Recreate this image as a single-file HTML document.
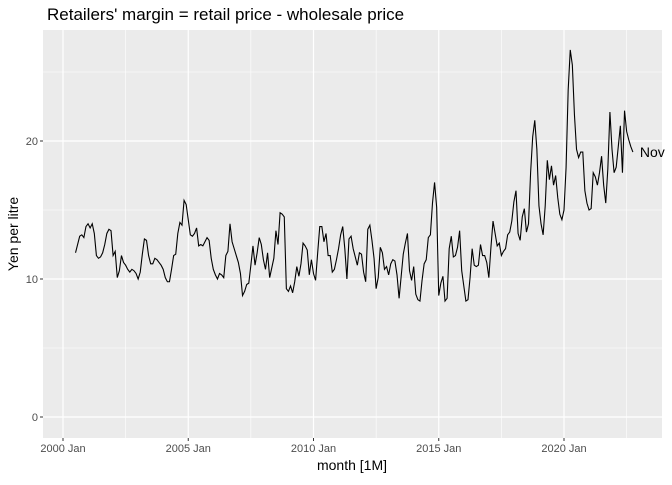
<!DOCTYPE html>
<html><head><meta charset="utf-8"><style>
body{margin:0;background:#fff;}
svg text{font-family:"Liberation Sans",Arial,sans-serif;}
</style></head><body>
<svg id="chart" width="672" height="480">
<text x="47" y="20" font-size="17" fill="#000">Retailers' margin = retail price - wholesale price</text>
<rect x="43" y="30" width="619" height="408" fill="#ebebeb"/>
<g id="grid"></g>
<g id="axes"></g>
<path id="line" fill="none" stroke="#000" stroke-width="1.1"/>
<text id="endlabel" font-size="14" fill="#000">Nov</text>
<text x="352" y="470" font-size="14" text-anchor="middle">month [1M]</text>
<text transform="translate(18,234) rotate(-90)" font-size="14" text-anchor="middle">Yen per litre</text>
</svg>
<script>
const yTicks=[0,10,20];
const yMinor=[5,15,25];
const xTickYears=[2000,2005,2010,2015,2020];
const xTickLabels=["2000 Jan","2005 Jan","2010 Jan","2015 Jan","2020 Jan"];
const startYear=2000.5;
const endLabel="Nov";
const values=[
11.9,12.5,13.1,13.2,13.0,13.8,14.0,13.7,14.0,13.3,11.7,11.5,11.6,11.9,12.5,13.3,13.6,13.5,11.7,12.0,10.1,10.6,11.7,11.2,11.0,10.7,10.5,10.7,10.6,10.4,10.0,10.5,11.8,12.9,12.8,11.7,11.1,11.1,11.5,11.4,11.2,11.0,10.7,10.1,9.8,9.8,10.7,11.7,11.8,13.3,14.1,13.9,15.7,15.4,14.3,13.2,13.1,13.3,13.7,12.4,12.5,12.4,12.7,13.0,12.8,11.5,10.7,10.3,10.0,
10.4,10.3,10.1,11.7,12.0,14.0,12.7,12.2,11.7,11.2,10.4,8.8,9.1,9.6,9.7,11.0,12.4,11.0,11.9,13.0,12.5,11.4,10.7,11.9,10.1,10.8,11.5,13.5,12.5,14.8,14.7,14.5,9.3,9.1,9.5,9.0,9.8,10.9,10.2,11.1,12.6,12.4,12.1,10.3,11.4,10.4,9.9,11.9,13.8,13.8,12.7,13.3,11.7,11.7,10.5,10.7,11.4,12.2,13.2,13.8,12.2,10.0,12.9,13.1,12.2,11.6,11.0,11.9,11.8,10.5,9.8,
13.6,13.9,12.8,11.5,9.3,10.1,12.3,11.9,10.7,10.9,10.3,11.1,11.4,11.3,10.3,8.6,10.2,11.8,12.6,13.3,10.6,9.9,10.9,8.9,8.5,8.4,9.9,11.1,11.4,13.0,13.2,15.5,17.0,15.2,8.8,9.7,10.2,8.4,8.6,12.2,13.1,11.6,11.7,12.3,13.5,10.6,9.5,8.4,8.5,10.1,12.2,11.0,10.9,11.0,12.5,11.7,11.7,11.2,10.1,12.3,14.2,13.3,12.4,12.6,11.7,12.0,12.2,13.2,13.4,14.2,15.6,16.4,
13.3,12.8,14.5,15.1,13.4,14.0,17.7,20.3,21.5,19.4,15.3,14.0,13.2,15.3,18.6,17.2,18.2,16.8,17.5,15.9,14.7,14.3,15.0,18.1,23.7,26.6,25.5,21.9,19.4,18.8,19.2,19.2,16.4,15.5,15.0,15.1,17.7,17.4,16.8,17.7,18.9,16.8,15.5,18.0,22.1,19.4,17.7,18.1,19.6,21.1,17.7,22.2,20.7,20.1,19.6,19.2
];
const NS="http://www.w3.org/2000/svg";
const px0=43,px1=662,py0=30,py1=438;
function xs(yr){return 63+(yr-2000)*25.05;}
function ys(v){return 417-v*13.8;}
const grid=document.getElementById('grid'),axes=document.getElementById('axes');
function ln(g,x1,y1,x2,y2,w,name){const l=document.createElementNS(NS,'line');
l.setAttribute('x1',x1);l.setAttribute('y1',y1);l.setAttribute('x2',x2);l.setAttribute('y2',y2);
l.setAttribute('stroke','#fff');l.setAttribute('stroke-width',w);


g.appendChild(l);return l;}
yMinor.forEach(v=>{if(ys(v)>py0)ln(grid,px0,ys(v),px1,ys(v),0.6,'y-minor-gridline');});
xTickYears.forEach(y=>{const m=y+2.5;if(xs(m)<px1)ln(grid,xs(m),py0,xs(m),py1,0.6,'x-minor-gridline');});
yTicks.forEach(v=>{ln(grid,px0,ys(v),px1,ys(v),1.2,'y-major-gridline');
const t=document.createElementNS(NS,'text');t.setAttribute('x',38);t.setAttribute('y',ys(v)+4);
t.setAttribute('text-anchor','end');t.setAttribute('font-size','11');t.setAttribute('fill','#4d4d4d');t.textContent=v;


axes.appendChild(t);
const k=document.createElementNS(NS,'line');k.setAttribute('x1',40);k.setAttribute('x2',43);k.setAttribute('y1',ys(v));k.setAttribute('y2',ys(v));k.setAttribute('stroke','#333');


axes.appendChild(k);});
xTickYears.forEach((y,i)=>{ln(grid,xs(y),py0,xs(y),py1,1.2,'x-major-gridline');
const t=document.createElementNS(NS,'text');t.setAttribute('x',xs(y));t.setAttribute('y',452);
t.setAttribute('text-anchor','middle');t.setAttribute('font-size','11');t.setAttribute('fill','#4d4d4d');t.textContent=xTickLabels[i];


axes.appendChild(t);
const k=document.createElementNS(NS,'line');k.setAttribute('x1',xs(y));k.setAttribute('x2',xs(y));k.setAttribute('y1',438);k.setAttribute('y2',441);k.setAttribute('stroke','#333');


axes.appendChild(k);});
let d='';values.forEach((v,i)=>{d+=(i?'L':'M')+xs(startYear+i/12).toFixed(2)+','+ys(v).toFixed(2);});
document.getElementById('line').setAttribute('d',d);
const last=values.length-1,el=document.getElementById('endlabel');
el.setAttribute('x',xs(startYear+last/12)+7);el.setAttribute('y',ys(values[last])+5);el.textContent=endLabel;
</script>
</body></html>
